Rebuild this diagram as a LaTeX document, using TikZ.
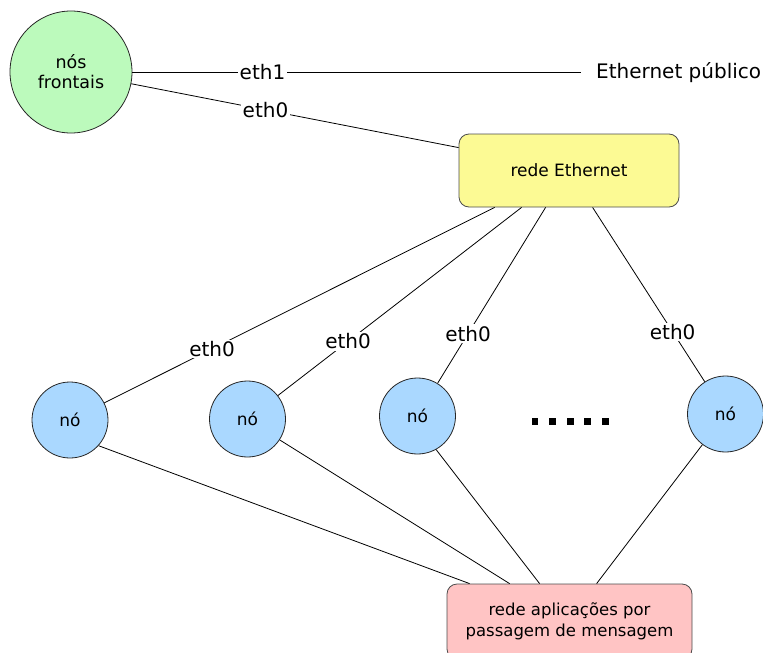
\documentclass[tikz,border=0pt]{standalone}
\usepackage{fontspec}
\setmainfont{DejaVu Sans}
\usetikzlibrary{calc}
\definecolor{frontgreen}{RGB}{188,250,188}
\definecolor{nodeblue}{RGB}{170,216,255}
\definecolor{netyellow}{RGB}{252,250,148}
\definecolor{msgpink}{RGB}{255,196,196}

\begin{document}
\begin{tikzpicture}[x=1pt,y=-1pt,
  link/.style={draw=black,line width=0.8pt},
  iface/.style={fill=white,inner sep=1.5pt,font=\fontsize{20}{24}\selectfont},
  host/.style={circle,draw=black!85,line width=0.8pt,fill=nodeblue,minimum size=76pt,
    inner sep=0pt,font=\fontsize{17}{20}\selectfont},
  netbox/.style={rectangle,rounded corners=10pt,draw=black!70,line width=0.8pt,
    align=center,inner sep=0pt},
]
\useasboundingbox (0,0) rectangle (763,653);
\clip (0,0) rectangle (763,653);

% front-end machine and the two networks
\node[circle,draw=black!85,line width=0.8pt,fill=frontgreen,minimum size=122pt,
  inner sep=0pt,align=center,font=\fontsize{17.5}{20}\selectfont] (front) at (71,72) {nós\\frontais};
\node[netbox,fill=netyellow,minimum width=220pt,minimum height=73pt,
  font=\fontsize{17}{20}\selectfont] (ethnet) at (569,170.5) {rede Ethernet};
\node[netbox,fill=msgpink,minimum width=245pt,minimum height=75pt,
  font=\fontsize{16.5}{21}\selectfont] (msgnet) at (569.5,621.5) {rede aplicações por\\passagem de mensagem};
\node[anchor=west,inner sep=0pt,font=\fontsize{20}{24}\selectfont] (public) at (596,73) {Ethernet público};

% compute nodes
\node[host] (n1) at (70,420) {nó};
\node[host] (n2) at (247.5,419) {nó};
\node[host] (n3) at (417.5,416) {nó};
\node[host] (n4) at (725.5,414) {nó};

% attachment points on the network boxes
\coordinate (pubend) at (581,72);
\coordinate (eleft) at ($(ethnet.north west)+(0,14)$);
\coordinate (e1) at ($(ethnet.south west)+(36,0)$);
\coordinate (e2) at ($(ethnet.south west)+(63,0)$);
\coordinate (e3) at ($(ethnet.south west)+(87,0)$);
\coordinate (e4) at ($(ethnet.south west)+(134,0)$);
\coordinate (m1) at ($(msgnet.north west)+(23,0)$);
\coordinate (m2) at ($(msgnet.north west)+(63,0)$);
\coordinate (m3) at ($(msgnet.north west)+(93,0)$);
\coordinate (m4) at ($(msgnet.north west)+(150,0)$);

% interfaces of the front-end machine
\draw[link] (front.east |- pubend) -- node[iface,pos=0.29] {eth1} (pubend);
\draw[link] (front) -- node[iface,pos=0.41] {eth0} (eleft);

% Ethernet links of the compute nodes
\draw[link] (e1) -- node[iface,pos=0.724] {eth0} (n1);
\draw[link] (e2) -- node[iface,pos=0.712] {eth0} (n2);
\draw[link] (e3) -- node[iface,pos=0.718] {eth0} (n3);
\draw[link] (e4) -- node[iface,pos=0.714] {eth0} (n4);

% message-passing links
\draw[link] (n1.-42) -- (m1);
\draw[link] (n2.-33) -- (m2);
\draw[link] (n3.-61.5) -- (m3);
\draw[link] (n4.-127.5) -- (m4);

% ellipsis between the compute nodes
\foreach \x in {535,552.6,570.2,587.8,605.4}
  \fill (\x-3.4,418.3) rectangle ++(6.8,6.8);
\end{tikzpicture}
\end{document}
